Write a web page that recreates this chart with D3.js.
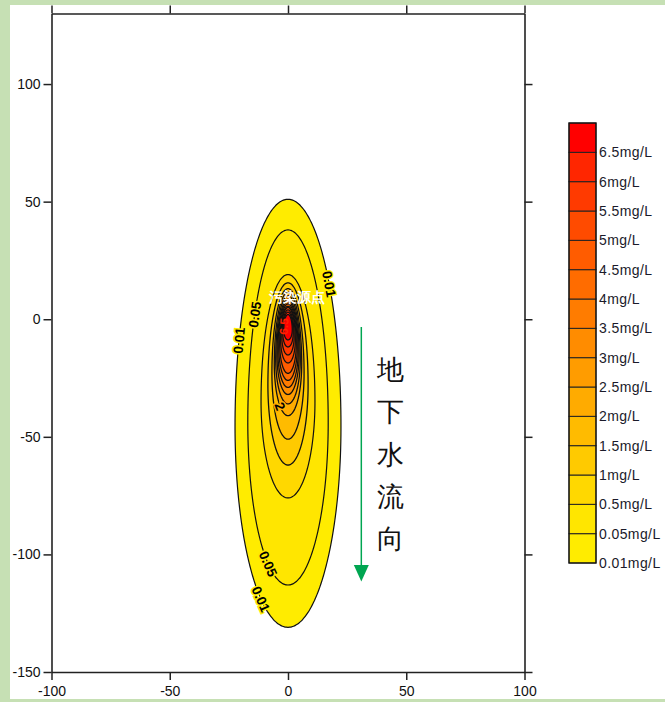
<!DOCTYPE html>
<html>
<head>
<meta charset="utf-8">
<script src="https://cdn.jsdelivr.net/npm/d3@7/dist/d3.min.js"></script>
<style>
  html, body { margin: 0; padding: 0; background: #fff; }
  svg { display: block; }
  text { font-family: "Liberation Sans", Arial, sans-serif; }
</style>
</head>
<body>
<svg id="chart" width="665" height="702"></svg>
<script>
// ---------------- data ----------------
const xTicks = [-100, -50, 0, 50, 100];
const yTicks = [-150, -100, -50, 0, 50, 100];
const xDomain = [-100, 100];
const yDomain = [-150, 130];

// contour levels (mg/L) and the shape of each contour
const levels     = [0.01, 0.05, 0.5, 1, 1.5, 2, 2.5, 3, 3.5, 4, 4.5, 5, 5.5, 6, 6.5];
const levelTop   = [51, 38, 19, 15.5, 13, 11.5, 10, 8.5, 7.5, 6.5, 5.5, 5, 4, 3, 2];
const levelBot   = [-131, -113, -76, -62, -51, -41, -36, -32, -29, -26, -23, -18.6, -15.2, -11.8, -8.8];
const levelWide  = [-45.6, -44, -35, -28, -23, -19, -17, -15, -13.5, -12, -10.5, -9, -7.5, -6, -4.5];
const levelHalfW = [22.4, 17, 11.4, 8.5, 6.8, 5.8, 5.2, 4.7, 4.3, 3.9, 3.5, 3.1, 2.6, 2.2, 1.8];

// legend bins
const legendBounds = [0.01, 0.05, 0.5, 1, 1.5, 2, 2.5, 3, 3.5, 4, 4.5, 5, 5.5, 6, 6.5, 7];
const bandColors = ["#FFEC00", "#FFE600", "#FFD800", "#FFCA00", "#FFBB00", "#FFAB00", "#FF9C00",
                    "#FF8C00", "#FF7C00", "#FF6C00", "#FF5C00", "#FF4B00", "#FF3A00", "#FF2600", "#FF0000"];

// contour labels: [level index, side, y position, text]
const contourLabels = [
  [0, "L", -9, "0.01"],
  [1, "L", 2, "0.05"],
  [0, "R", 15, "0.01"],
  [1, "L", -104, "0.05"],
  [0, "L", -119, "0.01"],
  [5, "L", -37, "2"],
  [14, "L", -3, "6.5"]
];

const sourceLabel = "污染源点";
const flowText = ["地", "下", "水", "流", "向"];

// ---------------- drawing ----------------
const svg = d3.select("#chart");

// green window frame
svg.append("rect").attr("x", 0).attr("y", 0).attr("width", 665).attr("height", 5).attr("fill", "#C6E0B4");
svg.append("rect").attr("x", 0).attr("y", 0).attr("width", 10).attr("height", 702).attr("fill", "#C6E0B4");
svg.append("rect").attr("x", 0).attr("y", 699).attr("width", 665).attr("height", 3).attr("fill", "#C6E0B4");

const x = d3.scaleLinear().domain(xDomain).range([51.5, 524.5]);
const y = d3.scaleLinear().domain(yDomain).range([672, 13.5]);

function contourPoint(i, t) {
  const T = levelTop[i], B = levelBot[i], W = levelWide[i], H = levelHalfW[i];
  const s = Math.sin(t);
  return [H * Math.cos(t), W + (s >= 0 ? (T - W) : (W - B)) * s];
}
function contourPoints(i) {
  const n = 180, pts = [];
  for (let k = 0; k < n; k++) pts.push(contourPoint(i, 2 * Math.PI * k / n));
  return pts;
}
const line = d3.line().x(d => x(d[0])).y(d => y(d[1])).curve(d3.curveCardinalClosed.tension(0.5));

const g = svg.append("g");
levels.forEach((lv, i) => {
  g.append("path")
    .attr("d", line(contourPoints(i)))
    .attr("fill", bandColors[i])
    .attr("stroke", "#111")
    .attr("stroke-width", i < 3 ? 1.2 : 1.3);
});

// contour labels
function thetaFor(i, side, yv) {
  const T = levelTop[i], B = levelBot[i], W = levelWide[i];
  if (yv >= W) {
    const a = Math.asin(Math.min(1, (yv - W) / (T - W)));
    return side === "L" ? Math.PI - a : a;
  } else {
    const a = Math.asin(Math.min(1, (W - yv) / (W - B)));
    return side === "L" ? Math.PI + a : 2 * Math.PI - a;
  }
}
contourLabels.forEach(([i, side, yv, txt]) => {
  const t = thetaFor(i, side, yv);
  const p = contourPoint(i, t);
  const p1 = contourPoint(i, t - 0.01), p2 = contourPoint(i, t + 0.01);
  let ang = Math.atan2(y(p2[1]) - y(p1[1]), x(p2[0]) - x(p1[0])) * 180 / Math.PI;
  while (ang > 90) ang -= 180;
  while (ang <= -90) ang += 180;
  const isRed = levels[i] >= 6.5;
  g.append("text")
    .attr("transform", `translate(${x(p[0])},${y(p[1])}) rotate(${ang})`)
    .attr("text-anchor", "middle")
    .attr("dy", "0.36em")
    .attr("font-size", isRed ? 12 : 13.5)
    .attr("font-weight", "bold")
    .attr("fill", isRed ? "#FF2000" : "#000")
    .attr("stroke", isRed ? "#000" : bandColors[i])
    .attr("stroke-width", isRed ? 0 : 3)
    .attr("paint-order", "stroke")
    .text(txt);
});

// source label
g.append("text")
  .attr("x", x(3.6)).attr("y", y(7.5))
  .attr("text-anchor", "middle")
  .attr("font-family", "'Noto Sans CJK SC', sans-serif")
  .attr("font-size", 13.5)
  .attr("font-weight", "bold")
  .attr("fill", "#fff")
  .text(sourceLabel);

// axes
const fmt = d => String(d).replace("−", "-");
function styleAxis(sel) {
  sel.selectAll("path.domain").attr("stroke", "#222").attr("stroke-width", 1.6);
  sel.selectAll(".tick line").attr("stroke", "#222").attr("stroke-width", 1.5);
  sel.selectAll(".tick text").attr("fill", "#111").attr("font-size", 14)
     .attr("font-family", "'Liberation Sans', Arial, sans-serif");
}
svg.append("g").attr("transform", `translate(0,${y(yDomain[0])})`)
  .call(d3.axisBottom(x).tickValues(xTicks).tickSize(8).tickSizeOuter(0).tickPadding(6).tickFormat(fmt))
  .call(styleAxis);
svg.append("g").attr("transform", `translate(0,${y(yDomain[1])})`)
  .call(d3.axisTop(x).tickValues(xTicks).tickSize(8).tickSizeOuter(0).tickFormat(""))
  .call(styleAxis);
svg.append("g").attr("transform", `translate(${x(xDomain[0])},0)`)
  .call(d3.axisLeft(y).tickValues(yTicks).tickSize(8).tickSizeOuter(0).tickPadding(3).tickFormat(fmt))
  .call(styleAxis);
svg.append("g").attr("transform", `translate(${x(xDomain[1])},0)`)
  .call(d3.axisRight(y).tickValues(yTicks).tickSize(8).tickSizeOuter(0).tickFormat(""))
  .call(styleAxis);

// flow arrow
const arrowColor = "#00A651";
svg.append("line")
  .attr("x1", x(31)).attr("x2", x(31))
  .attr("y1", y(-3.3)).attr("y2", y(-106))
  .attr("stroke", arrowColor).attr("stroke-width", 1.5);
svg.append("path")
  .attr("d", `M${x(31) - 7.5},${y(-104.5)} L${x(31) + 7.5},${y(-104.5)} L${x(31)},${y(-111.5)} Z`)
  .attr("fill", arrowColor);

const flow = svg.append("text")
  .attr("font-family", "'Noto Sans CJK SC', sans-serif")
  .attr("font-size", 27)
  .attr("font-weight", 300)
  .attr("fill", "#111")
  .attr("text-anchor", "middle");
flowText.forEach((c, k) => {
  flow.append("tspan").attr("x", 390).attr("y", 379 + k * 42.3).text(c);
});

// legend
const lg = svg.append("g");
const ly = d3.scaleLinear().domain([0, bandColors.length]).range([563, 123]);
bandColors.forEach((c, k) => {
  lg.append("rect")
    .attr("x", 569).attr("width", 27)
    .attr("y", ly(k + 1)).attr("height", ly(k) - ly(k + 1))
    .attr("fill", c).attr("stroke", "#222").attr("stroke-width", 1);
});
lg.append("rect").attr("x", 569).attr("y", 123).attr("width", 27).attr("height", 440)
  .attr("fill", "none").attr("stroke", "#111").attr("stroke-width", 1.2);
legendBounds.slice(0, -1).forEach((v, k) => {
  lg.append("text")
    .attr("x", 599).attr("y", ly(k)).attr("dy", "0.36em")
    .attr("font-size", 14).attr("letter-spacing", 0.4)
    .attr("fill", "#1a1a2a")
    .text(v + "mg/L");
});
</script>
</body>
</html>
